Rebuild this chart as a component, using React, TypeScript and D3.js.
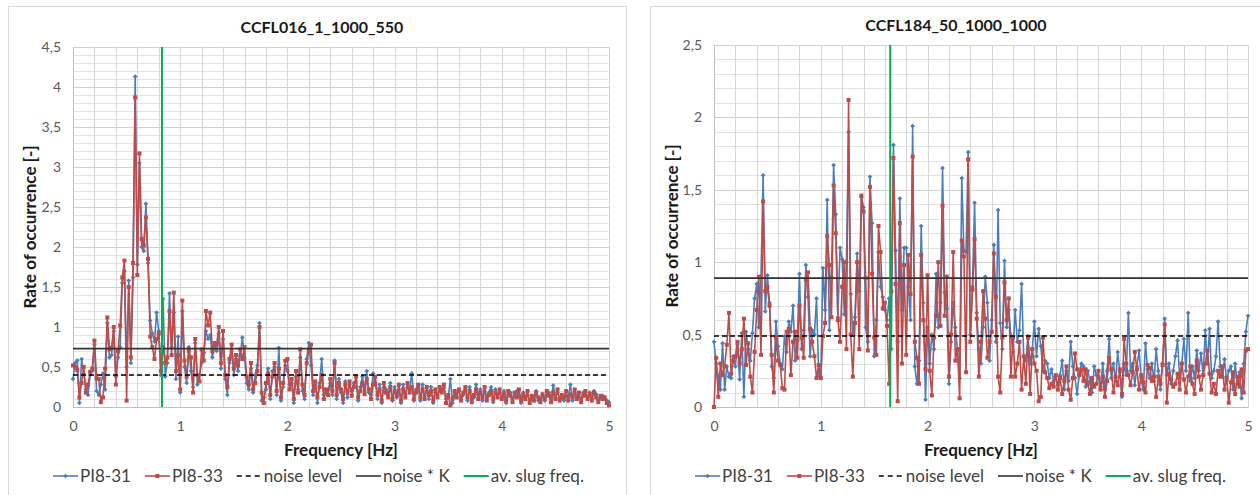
import React, { useEffect, useRef } from 'react';
import * as d3 from 'd3';

// frequency resolution of the spectra [Hz]
const STEP = 0.02;

// CCFL016_1_1000_550
const leftPI831 = [
  0.35, 0.55, 0.58, 0.05, 0.60, 0.42, 0.22, 0.15, 0.40, 0.45,
  0.78, 0.20, 0.15, 0.28, 0.42, 0.22, 1.05, 0.62, 0.65, 0.95,
  0.38, 0.62, 0.75, 1.55, 1.70, 0.50, 1.58, 0.55, 1.62, 4.13,
  1.78, 3.05, 2.00, 1.95, 2.54, 1.80, 1.08, 0.92, 0.82, 1.18,
  0.95, 0.40, 1.35, 0.38, 0.55, 1.42, 0.75, 1.18, 0.35, 0.88,
  0.18, 1.20, 0.50, 0.30, 0.75, 0.45, 0.25, 0.80, 0.28, 0.40,
  0.55, 0.68, 0.95, 0.85, 0.90, 0.62, 0.75, 0.70, 0.92, 0.48,
  0.85, 0.35, 0.15, 0.55, 0.70, 0.40, 0.60, 0.45, 0.65, 0.87,
  0.62, 0.30, 0.22, 0.48, 0.18, 0.40, 0.52, 1.05, 0.08, 0.12,
  0.22, 0.48, 0.10, 0.45, 0.50, 0.15, 0.74, 0.08, 0.25, 0.52,
  0.45, 0.28, 0.30, 0.05, 0.38, 0.22, 0.62, 0.20, 0.10, 0.60,
  0.80, 0.52, 0.15, 0.28, 0.05, 0.30, 0.60, 0.15, 0.18, 0.22,
  0.30, 0.15, 0.58, 0.10, 0.35, 0.18, 0.05, 0.32, 0.12, 0.28,
  0.20, 0.30, 0.32, 0.08, 0.25, 0.38, 0.20, 0.45, 0.18, 0.15,
  0.42, 0.30, 0.10, 0.28, 0.05, 0.25, 0.22, 0.15, 0.30, 0.08,
  0.25, 0.12, 0.22, 0.05, 0.28, 0.16, 0.25, 0.22, 0.42, 0.08,
  0.22, 0.25, 0.08, 0.28, 0.14, 0.20, 0.10, 0.25, 0.05, 0.18,
  0.15, 0.20, 0.22, 0.24, 0.10, 0.12, 0.35, 0.05, 0.15, 0.18,
  0.20, 0.12, 0.15, 0.22, 0.08, 0.25, 0.10, 0.12, 0.28, 0.15,
  0.22, 0.08, 0.20, 0.12, 0.18, 0.25, 0.06, 0.22, 0.15, 0.18,
  0.12, 0.20, 0.05, 0.16, 0.18, 0.10, 0.14, 0.20, 0.15, 0.05,
  0.18, 0.12, 0.15, 0.08, 0.10, 0.12, 0.20, 0.08, 0.10, 0.14,
  0.08, 0.15, 0.18, 0.10, 0.27, 0.12, 0.18, 0.10, 0.12, 0.08,
  0.15, 0.12, 0.28, 0.08, 0.18, 0.14, 0.12, 0.10, 0.18, 0.15,
  0.12, 0.18, 0.10, 0.20, 0.16, 0.08, 0.12, 0.14, 0.10, 0.08, 0.06
];

const leftPI833 = [
  0.52, 0.50, 0.46, 0.12, 0.30, 0.50, 0.18, 0.28, 0.44, 0.48,
  0.83, 0.36, 0.35, 0.06, 0.12, 0.48, 1.12, 0.72, 0.74, 1.00,
  0.28, 0.70, 1.02, 1.62, 1.83, 0.08, 1.50, 0.62, 1.80, 3.87,
  1.65, 3.17, 2.10, 2.02, 2.37, 1.85, 0.88, 0.75, 0.60, 0.85,
  0.92, 0.45, 0.75, 0.55, 0.62, 1.20, 0.65, 1.43, 0.45, 0.65,
  0.22, 1.33, 0.58, 0.38, 0.70, 0.62, 0.18, 0.85, 0.40, 0.32,
  0.72, 0.58, 1.20, 1.02, 1.18, 0.70, 0.80, 0.78, 1.00, 0.55,
  0.95, 0.40, 0.25, 0.60, 0.78, 0.48, 0.65, 0.52, 0.72, 0.60,
  0.75, 0.38, 0.28, 0.55, 0.22, 0.30, 0.45, 1.00, 0.18, 0.05,
  0.30, 0.42, 0.15, 0.38, 0.55, 0.20, 0.48, 0.12, 0.30, 0.58,
  0.60, 0.22, 0.35, 0.10, 0.45, 0.18, 0.72, 0.28, 0.15, 0.55,
  0.70, 0.78, 0.20, 0.32, 0.12, 0.25, 0.40, 0.10, 0.22, 0.15,
  0.35, 0.20, 0.55, 0.15, 0.30, 0.22, 0.10, 0.28, 0.18, 0.32,
  0.14, 0.25, 0.38, 0.12, 0.20, 0.30, 0.16, 0.35, 0.22, 0.10,
  0.28, 0.38, 0.15, 0.22, 0.08, 0.30, 0.18, 0.12, 0.25, 0.10,
  0.20, 0.15, 0.28, 0.08, 0.22, 0.12, 0.30, 0.18, 0.25, 0.10,
  0.18, 0.28, 0.12, 0.22, 0.10, 0.25, 0.15, 0.20, 0.08, 0.22,
  0.12, 0.25, 0.18, 0.28, 0.05, 0.15, 0.02, 0.10, 0.20, 0.12,
  0.22, 0.08, 0.18, 0.25, 0.12, 0.20, 0.06, 0.15, 0.22, 0.10,
  0.18, 0.12, 0.25, 0.08, 0.15, 0.20, 0.10, 0.18, 0.12, 0.22,
  0.10, 0.16, 0.08, 0.20, 0.14, 0.06, 0.18, 0.12, 0.22, 0.08,
  0.15, 0.10, 0.20, 0.05, 0.14, 0.08, 0.18, 0.12, 0.06, 0.16,
  0.10, 0.20, 0.14, 0.06, 0.18, 0.10, 0.22, 0.08, 0.15, 0.12,
  0.20, 0.08, 0.16, 0.12, 0.22, 0.10, 0.18, 0.06, 0.14, 0.20,
  0.10, 0.16, 0.08, 0.18, 0.12, 0.06, 0.14, 0.10, 0.12, 0.05, 0.02
];

// CCFL184_50_1000_1000
const rightPI831 = [
  0.45, 0.30, 0.21, 0.12, 0.44, 0.12, 0.28, 0.21, 0.20, 0.35,
  0.28, 0.43, 0.19, 0.51, 0.07, 0.52, 0.40, 0.32, 0.51, 0.75,
  0.85, 0.55, 0.90, 1.60, 0.66, 0.91, 0.72, 0.28, 0.20, 0.59,
  0.42, 0.30, 0.26, 0.49, 0.38, 0.59, 0.52, 0.70, 0.32, 0.46,
  0.92, 0.40, 0.53, 0.98, 0.76, 0.35, 0.53, 0.50, 0.75, 0.22,
  0.20, 0.96, 0.67, 1.43, 0.53, 0.90, 1.67, 1.33, 0.62, 1.10,
  1.02, 0.64, 1.00, 1.90, 0.78, 0.50, 0.62, 1.06, 0.80, 1.45,
  1.38, 0.55, 0.45, 1.59, 1.27, 0.35, 0.60, 1.07, 0.83, 0.76,
  0.67, 0.60, 0.75, 0.40, 1.81, 1.08, 0.45, 1.44, 0.67, 1.10,
  1.10, 0.83, 0.60, 1.94, 0.28, 0.16, 0.32, 1.25, 0.72, 0.05,
  0.55, 0.30, 0.50, 0.40, 0.92, 0.55, 0.72, 1.65, 0.79, 0.68,
  0.16, 0.45, 0.72, 0.55, 0.39, 0.20, 1.58, 1.08, 1.07, 1.76,
  0.50, 0.83, 1.41, 0.65, 0.40, 0.30, 0.55, 0.90, 0.72, 0.32,
  0.60, 1.12, 0.45, 1.36, 0.58, 0.40, 1.01, 0.55, 0.67, 0.49,
  0.38, 0.67, 0.45, 0.53, 0.85, 0.35, 0.32, 0.49, 0.30, 0.40,
  0.59, 0.35, 0.54, 0.42, 0.25, 0.32, 0.30, 0.20, 0.26, 0.18,
  0.21, 0.15, 0.22, 0.32, 0.12, 0.25, 0.18, 0.45, 0.28, 0.20,
  0.09, 0.22, 0.30, 0.28, 0.14, 0.25, 0.18, 0.10, 0.28, 0.22,
  0.20, 0.14, 0.30, 0.12, 0.25, 0.47, 0.20, 0.30, 0.18, 0.38,
  0.24, 0.07, 0.30, 0.22, 0.65, 0.25, 0.30, 0.15, 0.28, 0.39,
  0.20, 0.12, 0.44, 0.26, 0.20, 0.30, 0.18, 0.40, 0.25, 0.12,
  0.30, 0.61, 0.22, 0.30, 0.16, 0.25, 0.35, 0.46, 0.20, 0.30,
  0.47, 0.25, 0.65, 0.18, 0.28, 0.20, 0.39, 0.25, 0.37, 0.22,
  0.53, 0.30, 0.54, 0.20, 0.25, 0.35, 0.59, 0.28, 0.21, 0.33,
  0.18, 0.25, 0.28, 0.12, 0.30, 0.16, 0.24, 0.06, 0.30, 0.52, 0.63
];

const rightPI833 = [
  0.00, 0.34, 0.07, 0.30, 0.22, 0.28, 0.43, 0.65, 0.23, 0.32,
  0.35, 0.45, 0.30, 0.40, 0.61, 0.29, 0.44, 0.21, 0.10, 0.38,
  0.67, 0.90, 0.36, 1.42, 0.80, 0.83, 0.70, 0.36, 0.10, 0.48,
  0.32, 0.29, 0.13, 0.12, 0.52, 0.54, 0.22, 0.45, 0.52, 0.34,
  0.70, 0.48, 0.34, 0.88, 0.93, 0.54, 0.45, 0.35, 0.20, 0.29,
  0.20, 0.49, 0.58, 1.18, 0.98, 0.62, 1.53, 1.20, 0.60, 0.45,
  0.83, 1.00, 0.40, 2.12, 0.50, 0.21, 0.58, 1.00, 0.40, 1.46,
  1.35, 0.89, 0.39, 1.52, 0.92, 0.48, 0.36, 1.25, 1.07, 0.68,
  0.72, 0.56, 0.16, 0.80, 1.72, 0.85, 0.04, 1.27, 0.30, 0.98,
  0.36, 1.05, 0.78, 1.73, 0.45, 0.34, 0.16, 1.05, 0.60, 0.26,
  0.91, 0.25, 0.08, 0.48, 0.63, 1.00, 0.56, 1.39, 0.63, 0.90,
  0.21, 0.50, 1.07, 0.32, 0.40, 0.06, 1.15, 1.04, 0.24, 1.71,
  0.45, 0.81, 1.16, 0.61, 0.21, 0.45, 0.80, 0.61, 0.34, 0.45,
  0.52, 1.06, 0.76, 0.21, 0.10, 0.48, 0.86, 0.60, 0.75, 0.21,
  0.48, 0.21, 0.30, 0.45, 0.12, 0.35, 0.16, 0.48, 0.09, 0.40,
  0.30, 0.25, 0.04, 0.07, 0.48, 0.24, 0.20, 0.13, 0.16, 0.14,
  0.22, 0.12, 0.20, 0.09, 0.18, 0.28, 0.12, 0.05, 0.20, 0.37,
  0.26, 0.22, 0.26, 0.18, 0.26, 0.16, 0.09, 0.20, 0.14, 0.16,
  0.25, 0.12, 0.21, 0.07, 0.18, 0.34, 0.26, 0.10, 0.21, 0.15,
  0.26, 0.09, 0.47, 0.30, 0.22, 0.15, 0.24, 0.38, 0.26, 0.12,
  0.22, 0.17, 0.10, 0.29, 0.27, 0.18, 0.21, 0.07, 0.21, 0.16,
  0.29, 0.57, 0.03, 0.23, 0.19, 0.14, 0.16, 0.23, 0.12, 0.30,
  0.19, 0.10, 0.21, 0.28, 0.16, 0.09, 0.32, 0.21, 0.12, 0.22,
  0.30, 0.39, 0.23, 0.10, 0.16, 0.09, 0.25, 0.21, 0.28, 0.12,
  0.20, 0.03, 0.17, 0.24, 0.09, 0.21, 0.14, 0.26, 0.10, 0.39, 0.40
];

const xTicks = [0, 1, 2, 3, 4, 5];
const leftYTicks = [0, 0.5, 1, 1.5, 2, 2.5, 3, 3.5, 4, 4.5];
const rightYTicks = [0, 0.5, 1, 1.5, 2, 2.5];
const legendLabels = ['PI8-31', 'PI8-33', 'noise level', 'noise * K', 'av. slug freq.'];

const panels = [
  { title: 'CCFL016_1_1000_550', pi831: leftPI831, pi833: leftPI833, noise: 0.40, noiseK: 0.73, slug: 0.83, yTicks: leftYTicks },
  { title: 'CCFL184_50_1000_1000', pi831: rightPI831, pi833: rightPI833, noise: 0.49, noiseK: 0.89, slug: 1.65, yTicks: rightYTicks }
];

const layouts = [
  { boxX: 8, boxW: 618, x0: 73, x1: 609, yTop: 47, yBottom: 407, titleX: 322, titleY: 33 },
  { boxX: 650, boxW: 620, x0: 714, x1: 1248, yTop: 45, yBottom: 407, titleX: 956, titleY: 31 }
];

const FONT = "Lato, 'Open Sans', sans-serif";
const BLUE = '#4a7ebb';
const RED = '#be4b48';
const GREEN = '#00b050';

function drawPanel(svg: any, p: any, lay: any) {
  const g = svg.append('g');
  const yMax = p.yTicks[p.yTicks.length - 1];

  // chart area border
  g.append('rect')
    .attr('x', lay.boxX + 0.5).attr('y', 6.5)
    .attr('width', lay.boxW).attr('height', 500)
    .attr('fill', '#fff').attr('stroke', '#d9d9d9');

  const x = d3.scaleLinear().domain([0, 5]).range([lay.x0, lay.x1]);
  const y = d3.scaleLinear().domain([0, yMax]).range([lay.yBottom, lay.yTop]);

  // gridlines: 0.1 horizontally, 0.2 Hz vertically
  const hLines = d3.range(0, Math.round(yMax * 10) + 1).map(k => k / 10);
  g.append('g').selectAll('line').data(hLines).enter().append('line')
    .attr('x1', lay.x0).attr('x2', lay.x1)
    .attr('y1', (d: number) => Math.round(y(d)) + 0.5)
    .attr('y2', (d: number) => Math.round(y(d)) + 0.5)
    .attr('stroke', (d: number, i: number) => (i % 5 === 0 ? '#d0d0d0' : '#e3e3e3'));
  const vLines = d3.range(0, 26).map(k => k / 5);
  g.append('g').selectAll('line').data(vLines).enter().append('line')
    .attr('y1', lay.yTop).attr('y2', lay.yBottom)
    .attr('x1', (d: number) => Math.round(x(d)) + 0.5)
    .attr('x2', (d: number) => Math.round(x(d)) + 0.5)
    .attr('stroke', '#d6d6d6');

  // axes
  const yAxis = g.append('g')
    .attr('transform', 'translate(' + lay.x0 + ',0)')
    .call(d3.axisLeft(y).tickValues(p.yTicks).tickSize(0).tickPadding(12)
      .tickFormat((d: any) => String(d).replace('.', ',')));
  const xAxis = g.append('g')
    .attr('transform', 'translate(0,' + lay.yBottom + ')')
    .call(d3.axisBottom(x).tickValues(xTicks).tickSize(0).tickPadding(14)
      .tickFormat(d3.format('d')));
  [yAxis, xAxis].forEach(a => {
    a.select('.domain').attr('stroke', '#bfbfbf');
    a.selectAll('text').style('font-family', FONT).style('font-size', '14px').attr('fill', '#595959');
  });

  // series
  const line = d3.line<number>()
    .x((d, i) => x(i * STEP))
    .y(d => y(d));
  const series = [
    { data: p.pi831, color: BLUE, marker: 'diamond' },
    { data: p.pi833, color: RED, marker: 'square' }
  ];
  series.forEach(s => {
    g.append('path').datum(s.data)
      .attr('d', line).attr('fill', 'none')
      .attr('stroke', s.color).attr('stroke-width', 1.6)
      .attr('stroke-linejoin', 'round');
    const sym = s.marker === 'diamond'
      ? d3.symbol().type(d3.symbolSquare).size(11)
      : d3.symbol().type(d3.symbolSquare).size(16);
    g.append('g').selectAll('path').data(s.data).enter().append('path')
      .attr('d', sym)
      .attr('transform', (d: number, i: number) => 'translate(' + x(i * STEP) + ',' + y(d) + ')' + (s.marker === 'diamond' ? ' rotate(45)' : ''))
      .attr('fill', s.color);
  });

  // noise level, noise * K, average slug frequency
  g.append('line')
    .attr('x1', lay.x0).attr('x2', lay.x1)
    .attr('y1', y(p.noise)).attr('y2', y(p.noise))
    .attr('stroke', '#000').attr('stroke-width', 1.5).attr('stroke-dasharray', '5,3');
  g.append('line')
    .attr('x1', lay.x0).attr('x2', lay.x1)
    .attr('y1', y(p.noiseK)).attr('y2', y(p.noiseK))
    .attr('stroke', '#333').attr('stroke-width', 1.6);
  g.append('line')
    .attr('x1', x(p.slug)).attr('x2', x(p.slug))
    .attr('y1', lay.yBottom).attr('y2', lay.yTop)
    .attr('stroke', GREEN).attr('stroke-width', 2);

  // titles
  g.append('text')
    .attr('x', lay.titleX).attr('y', lay.titleY)
    .attr('text-anchor', 'middle')
    .style('font-family', FONT).style('font-size', '16px').style('font-weight', 'bold')
    .attr('fill', '#1a1a1a')
    .text(p.title);
  g.append('text')
    .attr('transform', 'translate(' + (lay.boxX + 28) + ',' + (lay.yTop + lay.yBottom) / 2 + ') rotate(-90)')
    .attr('text-anchor', 'middle')
    .style('font-family', FONT).style('font-size', '17px').style('font-weight', 'bold')
    .attr('fill', '#1a1a1a')
    .text('Rate of occurrence [-]');
  g.append('text')
    .attr('x', (lay.x0 + lay.x1) / 2).attr('y', 456)
    .attr('text-anchor', 'middle')
    .style('font-family', FONT).style('font-size', '17px').style('font-weight', 'bold')
    .attr('fill', '#1a1a1a')
    .text('Frequency [Hz]');

  // legend
  const leg = g.append('g');
  let cx = lay.boxX + 45;
  const ly = 476;
  legendLabels.forEach((label, i) => {
    const sample = leg.append('line')
      .attr('x1', cx).attr('x2', cx + 25).attr('y1', ly).attr('y2', ly)
      .attr('stroke-width', 1.6);
    if (i === 0) {
      sample.attr('stroke', BLUE);
      leg.append('path').attr('d', d3.symbol().type(d3.symbolSquare).size(11))
        .attr('transform', 'translate(' + (cx + 12.5) + ',' + ly + ') rotate(45)').attr('fill', BLUE);
    } else if (i === 1) {
      sample.attr('stroke', RED);
      leg.append('path').attr('d', d3.symbol().type(d3.symbolSquare).size(16))
        .attr('transform', 'translate(' + (cx + 12.5) + ',' + ly + ')').attr('fill', RED);
    } else if (i === 2) {
      sample.attr('stroke', '#000').attr('stroke-dasharray', '5,4').attr('stroke-width', 1.5);
    } else if (i === 3) {
      sample.attr('stroke', '#333');
    } else {
      sample.attr('stroke', GREEN).attr('stroke-width', 2);
    }
    const t = leg.append('text')
      .attr('x', cx + 27).attr('y', ly + 6)
      .style('font-family', FONT).style('font-size', '17px')
      .attr('fill', '#404040')
      .text(label);
    const w = (t.node() as SVGTextElement).getComputedTextLength();
    cx += 27 + w + 14;
  });
}

export default function App() {
  const ref = useRef<SVGSVGElement>(null);
  useEffect(() => {
    const svg = d3.select(ref.current);
    svg.selectAll('*').remove();
    svg.append('rect').attr('width', 1260).attr('height', 495).attr('fill', '#fff');
    panels.forEach((p, i) => drawPanel(svg, p, layouts[i]));
  }, []);
  return (
    <svg ref={ref} width={1260} height={495}
      style={{ position: 'absolute', left: 0, top: 0, display: 'block' }} />
  );
}
